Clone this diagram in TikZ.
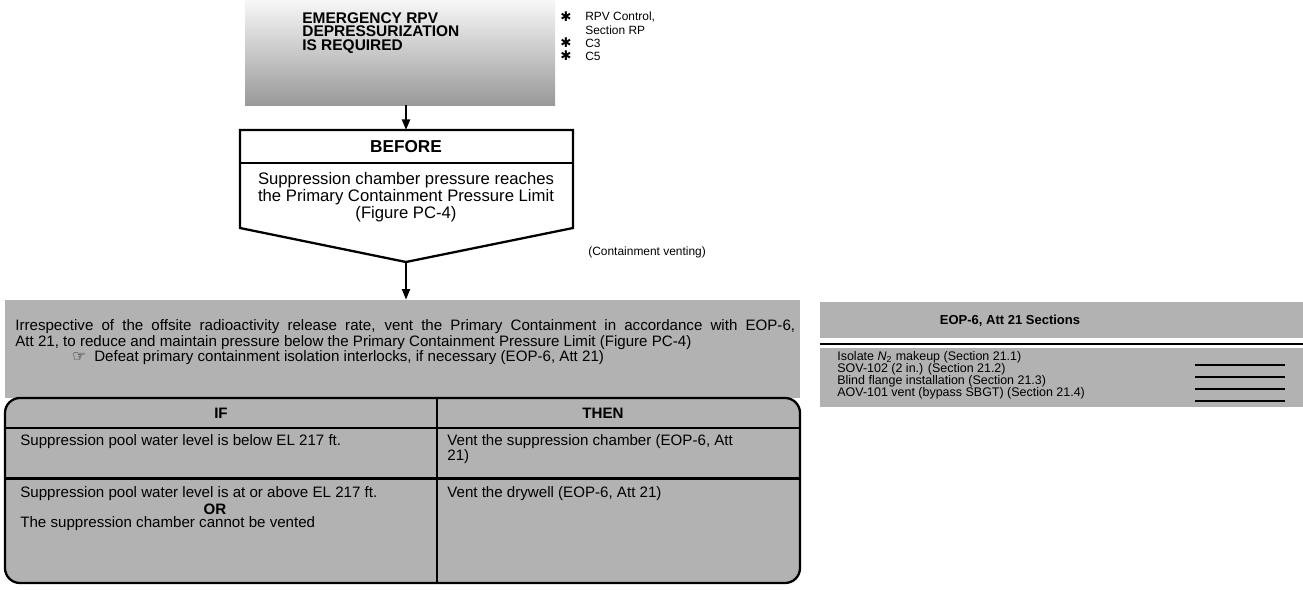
\documentclass[tikz,border=0pt]{standalone}
\usepackage{fontspec}
\setmainfont{Liberation Sans}
\newfontfamily\symfont{DejaVu Sans}
\usetikzlibrary{arrows.meta}

\tikzset{
  dither/.style={fill=black!30},
  txt/.style={font=\fontsize{8.6}{10}\selectfont, inner sep=0pt, anchor=west},
  small/.style={font=\fontsize{7.1}{8}\selectfont, inner sep=0pt, anchor=west},
  note/.style={font=\fontsize{6.8}{8}\selectfont, inner sep=0pt, anchor=west},
  star/.style={font=\symfont\fontsize{7.6}{7.6}\selectfont, inner sep=0pt},
  bold/.style={font=\bfseries\fontsize{8.6}{10}\selectfont, inner sep=0pt},
  arr/.style={-{Triangle[length=6pt,width=4.5pt]}, line width=1.2pt},
}

\begin{document}
\begin{tikzpicture}[x=0.02cm,y=-0.02cm]
\useasboundingbox (0,0) rectangle (1303,589);
% Entry box
\shade[top color=black!3, bottom color=black!40] (245,0) rectangle (555,105);
\node (entry) [inner sep=0pt, minimum width=6.2cm, minimum height=2.1cm] at (400,52.5) {};
\node (emerg) [bold, anchor=west, align=left, font=\bfseries\fontsize{8.8}{7.7}\selectfont] at (302,33) {EMERGENCY RPV\\DEPRESSURIZATION\\IS REQUIRED};
% Notes beside entry box
\node (st1) [star] at (566,17) {✱};
\node (n1) [note] at (585,17) {RPV Control,};
\node (n2) [note] at (585,30) {Section RP};
\node (st3) [star] at (566,43) {✱};
\node (n3) [note] at (585,43) {C3};
\node (st4) [star] at (566,56) {✱};
\node (n4) [note] at (585,56) {C5};
% BEFORE box
\coordinate (btop) at (406,130);
\coordinate (btip) at (406,262);
\draw [line width=1.3pt, fill=white] (240,130) -- (573,130) -- (573,228) -- (btip) -- (240,228) -- cycle;
\draw [line width=1pt] (240,163) -- (573,163);
\node (bhead) [bold, font=\bfseries\fontsize{9.8}{11}\selectfont] at (406,147) {BEFORE};
\node (bcond) [inner sep=0pt, align=center, font=\fontsize{9.5}{8}\selectfont] at (406,197) {Suppression chamber pressure reaches\\the Primary Containment Pressure Limit\\(Figure PC-4)};
\node (vent) [small, font=\fontsize{6.8}{8}\selectfont] at (588,252) {(Containment venting)};
% Arrows
\draw [arr] (entry.south -| btop) -- (btop);
% Action box
\fill [dither] (5,300) rectangle (800,398);
\node (act) [inner sep=0pt, minimum width=15.9cm, minimum height=1.96cm] at (402.5,349) {};
\draw [arr] (btip) -- (act.north -| btip);
\node (a1) [txt] at (15,327) {\makebox[15.6cm][s]{Irrespective of the offsite radioactivity release rate, vent the Primary Containment in accordance with EOP-6,}};
\node (a2) [txt] at (15,343) {Att 21, to reduce and maintain pressure below the Primary Containment Pressure Limit (Figure PC-4)};
\node (a3) [txt] at (72,358) {{\symfont ☞}\ \ Defeat primary containment isolation interlocks, if necessary (EOP-6, Att 21)};
% IF / THEN table
\fill [dither, rounded corners=8.5pt] (5,398) rectangle (800,583);
\draw [line width=1.7pt] (5,428) -- (800,428);
\draw [line width=1.7pt] (5,478) -- (800,478);
\draw [line width=1pt] (437,398) -- (437,583);
\draw [line width=1.3pt, rounded corners=8.5pt] (5,398) rectangle (800,583);
% Header row
\node (if) [bold] at (221,413) {IF};
\node (then) [bold] at (603,413) {THEN};
% Row 1
\node (c1) [txt] at (20,442) {Suppression pool water level is below EL 217 ft.};
\node (r1) [txt, align=left, font=\fontsize{8.6}{8.25}\selectfont] at (447,449) {Vent the suppression chamber (EOP-6, Att\\21)};
% Row 2
\node (c2) [txt] at (20,494) {Suppression pool water level is at or above EL 217 ft.};
\node (or) [bold] at (215,509) {OR};
\node (c3) [txt] at (20,524) {The suppression chamber cannot be vented};
\node (r2) [txt] at (447,494) {Vent the drywell (EOP-6, Att 21)};
% Sections list
\fill [dither] (820,302) rectangle (1303,338);
\node (sec) [bold, font=\bfseries\fontsize{7.4}{9}\selectfont] at (1010,321) {EOP-6, Att 21 Sections};
\draw [line width=1.6pt] (820,344) -- (1303,344);
\fill [dither] (820,348) rectangle (1303,407);
\node (s1) [small] at (837,357) {Isolate \textit{N}\textsubscript{2} makeup (Section 21.1)};
\node (s2) [small] at (837,369) {SOV-102 (2 in.) (Section 21.2)};
\node (s3) [small] at (837,381) {Blind flange installation (Section 21.3)};
\node (s4) [small] at (837,393) {AOV-101 vent (bypass SBGT) (Section 21.4)};
% Check-off lines
\foreach \y in {365,377,389,401}
  \draw [line width=1.1pt] (1195,\y) -- (1285,\y);
\end{tikzpicture}
\end{document}
